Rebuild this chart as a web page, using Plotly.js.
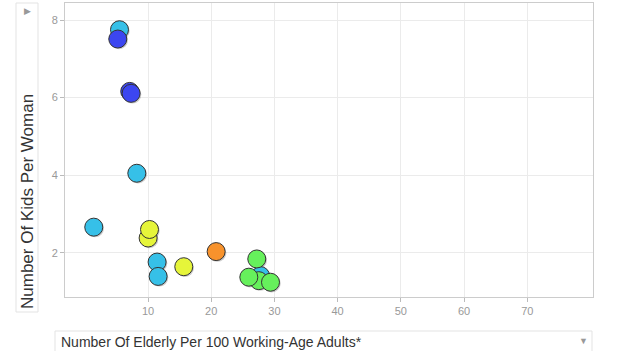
<!DOCTYPE html>
<html>
<head>
<meta charset="utf-8">
<script src="https://cdn.plot.ly/plotly-3.0.1.min.js"></script>
<style>html,body{margin:0;padding:0;background:#fff;}#chart{width:624px;height:351px;}</style>
</head>
<body>
<div id="chart"></div>
<script>
// Data (x: elderly per 100 working-age adults, y: kids per woman)
const groupNames = ["Group A", "Group B", "Group C", "Group D", "Group E"];
const groupAx = [5.68, 8.42, 1.61, 11.63, 11.79, 27.99];
const groupAy = [7.72, 4.02, 2.63, 1.73, 1.36, 1.38];
const groupBx = [5.41, 7.30, 7.52];
const groupBy = [7.48, 6.13, 6.08];
const groupCx = [10.21, 10.43, 15.85];
const groupCy = [2.35, 2.57, 1.61];
const groupDx = [20.97];
const groupDy = [2.00];
const groupEx = [27.40, 27.72, 26.14, 29.57];
const groupEy = [1.81, 1.25, 1.34, 1.21];
const xTicks = [10, 20, 30, 40, 50, 60, 70];
const yTicks = [2, 4, 6, 8];

const groupColors = ["#36c0e8", "#3c46f0", "#e6f53a", "#f7922c", "#66f05c"];
const xs = [groupAx, groupBx, groupCx, groupDx, groupEx];
const ys = [groupAy, groupBy, groupCy, groupDy, groupEy];

const xRange = [-3.13, 80.4];
const yRange = [0.86, 8.44];
const pxX = (xRange[1] - xRange[0]) / 528;
const pxY = (yRange[1] - yRange[0]) / 294;
const sh = 1.2;

const traces = [];
// soft shadows on the base axes
xs.forEach((x, i) => {
  traces.push({type: "scatter", mode: "markers", x: x, y: ys[i], xaxis: "x", yaxis: "y",
    hoverinfo: "skip", showlegend: false,
    marker: {size: 18, color: "rgba(0,0,0,0.2)", line: {width: 0}}});
});
// bubbles on an overlay, nudged up-left by ~1px so the shadow shows below-right
xs.forEach((x, i) => {
  traces.push({type: "scatter", mode: "markers", x: x, y: ys[i], xaxis: "x2", yaxis: "y2",
    name: groupNames[i], showlegend: false,
    marker: {size: 18, color: groupColors[i], opacity: 1, line: {width: 1, color: "#333"}}});
});

const shapeLine = {color: "#e3e3e3", width: 1};
const layout = {
  width: 624, height: 351,
  margin: {l: 65, r: 31, t: 3, b: 54},
  paper_bgcolor: "#fff", plot_bgcolor: "#fff",
  font: {family: "Liberation Sans, Arial, sans-serif", color: "#999", size: 11},
  showlegend: false,
  xaxis: {range: xRange, tickvals: xTicks, ticks: "outside", ticklen: 4, tickcolor: "#bbb",
    showgrid: true, gridcolor: "#ebebeb", zeroline: false, showline: true, linecolor: "#ccc",
    mirror: true, tickfont: {size: 11, color: "#999"}},
  yaxis: {range: yRange, tickvals: yTicks, ticks: "outside", ticklen: 4, tickcolor: "#bbb",
    showgrid: true, gridcolor: "#ebebeb", zeroline: false, showline: true, linecolor: "#ccc",
    mirror: true, tickfont: {size: 11, color: "#999"}},
  xaxis2: {overlaying: "x", range: [xRange[0] + sh * pxX, xRange[1] + sh * pxX], visible: false},
  yaxis2: {overlaying: "y", range: [yRange[0] - sh * pxY, yRange[1] - sh * pxY], visible: false},
  shapes: [
    {type: "rect", xref: "paper", yref: "paper", x0: (16 - 65) / 528, x1: (38 - 65) / 528,
      y0: (297 - 312) / 294, y1: (297 - 3) / 294, line: shapeLine, fillcolor: "rgba(0,0,0,0)"},
    {type: "rect", xref: "paper", yref: "paper", x0: (55 - 65) / 528, x1: (592 - 65) / 528,
      y0: (297 - 355) / 294, y1: (297 - 331) / 294, line: shapeLine, fillcolor: "rgba(0,0,0,0)"}
  ],
  annotations: [
    {xref: "paper", yref: "paper", x: (27 - 65) / 528, y: (297 - 202) / 294, text: "Number Of Kids Per Woman",
      textangle: -90, showarrow: false, font: {size: 17, color: "#333"}, xanchor: "center", yanchor: "middle"},
    {xref: "paper", yref: "paper", x: (59 - 65) / 528, y: (297 - 342) / 294, text: "Number Of Elderly Per 100 Working-Age Adults*",
      showarrow: false, font: {size: 14, color: "#333"}, xanchor: "left", yanchor: "middle"},
    {xref: "paper", yref: "paper", x: (583 - 65) / 528, y: (297 - 341) / 294, text: "▼",
      showarrow: false, font: {size: 9, color: "#999"}, xanchor: "center", yanchor: "middle"},
    {xref: "paper", yref: "paper", x: (27 - 65) / 528, y: (297 - 11) / 294, text: "▶",
      showarrow: false, font: {size: 9, color: "#999"}, xanchor: "center", yanchor: "middle"}
  ]
};
Plotly.newPlot("chart", traces, layout, {displayModeBar: false, staticPlot: true});
</script>
</body>
</html>
